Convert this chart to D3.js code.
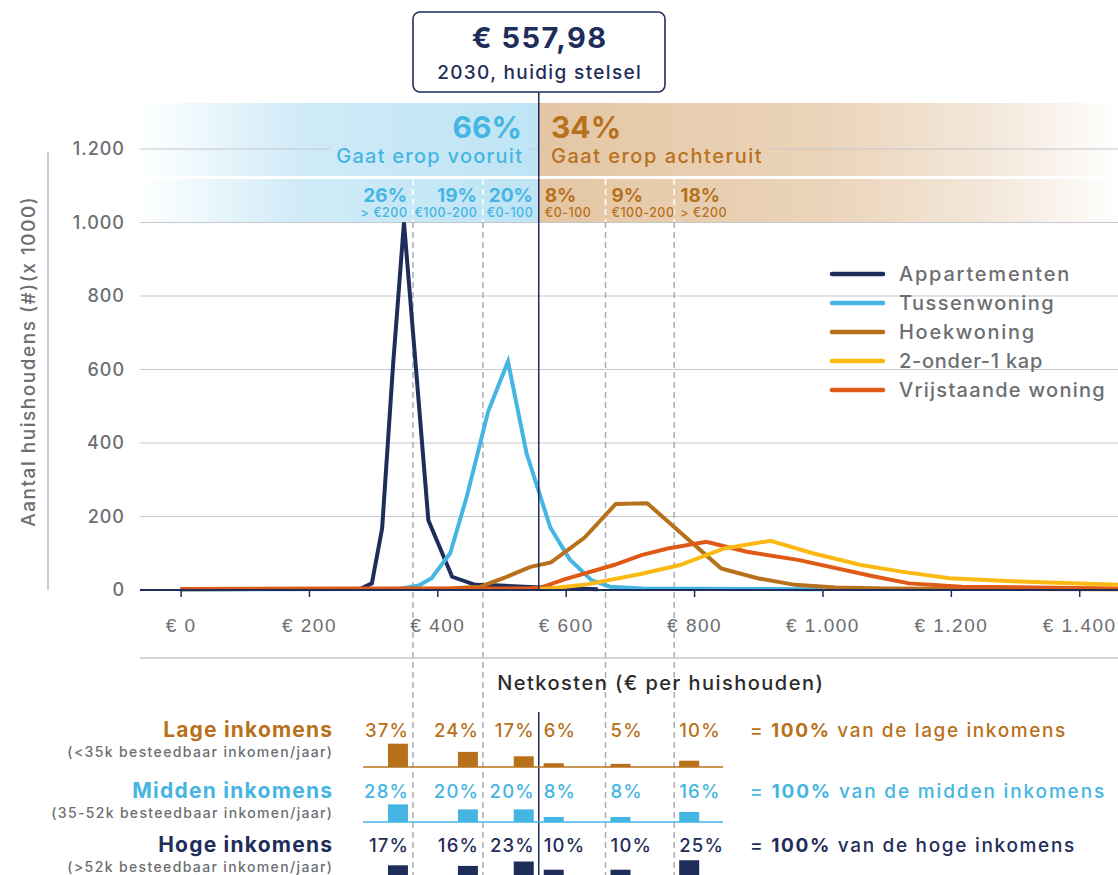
<!DOCTYPE html>
<html>
<head>
<meta charset="utf-8">
<script src="https://cdn.jsdelivr.net/npm/d3@7"></script>
<style>
  body { margin: 0; background: #fff; }
  svg { display: block; font-family: Inter, "Open Sans", sans-serif; font-weight: 500; }
</style>
</head>
<body>
<script>
// netkosten (€) vs aantal huishoudens (x 1000)
const series = ['Appartementen', 'Tussenwoning', 'Hoekwoning', '2-onder-1 kap', 'Vrijstaande woning']
const colors = ['#1f2d5a', '#45b5e3', '#b8711b', '#fdb913', '#df5a16']

const appartementen = [[0, 2], [280, 3], [298, 18], [314, 168], [331, 612], [348, 1000], [365, 639], [386, 190], [423, 36], [459, 14], [498, 12], [570, 6], [650, 2]]
const tussenwoning = [[0, 2], [340, 3], [371, 12], [391, 32], [420, 100], [446, 255], [479, 485], [510, 622], [539, 372], [576, 170], [606, 84], [640, 27], [669, 9], [720, 4], [1000, 2]]
const hoekwoning = [[0, 2], [420, 4], [467, 9], [508, 36], [545, 63], [577, 75], [629, 142], [678, 234], [727, 236], [842, 59], [899, 32], [957, 14], [1020, 7], [1100, 4], [1461, 2]]
const tweeOnderEenKap = [[560, 2], [577, 5], [629, 14], [715, 43], [778, 68], [847, 113], [919, 134], [985, 100], [1060, 68], [1123, 50], [1198, 32], [1307, 23], [1461, 14]]
const vrijstaand = [[0, 3], [540, 4], [560, 6], [598, 29], [675, 68], [718, 95], [759, 113], [819, 131], [882, 104], [962, 82], [1077, 38], [1135, 18], [1217, 9], [1461, 4]]
const curves = [appartementen, tussenwoning, hoekwoning, vrijstaand, tweeOnderEenKap]
const curveColors = [colors[0], colors[1], colors[2], colors[4], colors[3]]

const xTicks = [0, 200, 400, 600, 800, 1000, 1200, 1400]
const yTicks = [0, 200, 400, 600, 800, 1000, 1200]

const currentCost = 557.98
const currentLabel = '€ 557,98'
const currentNote = '2030, huidig stelsel'
const thresholds = [362, 471, 662, 769]

const shareBetter = '66%'
const shareWorse = '34%'
const bandShares = ['26%', '19%', '20%', '8%', '9%', '18%']
const bandRanges = ['> €200', '€100-200', '€0-100', '€0-100', '€100-200', '> €200']

const incomeGroups = ['Lage inkomens', 'Midden inkomens', 'Hoge inkomens']
const incomeNotes = ['(<35k besteedbaar inkomen/jaar)', '(35-52k besteedbaar inkomen/jaar)', '(>52k besteedbaar inkomen/jaar)']
const incomeTotals = ['van de lage inkomens', 'van de midden inkomens', 'van de hoge inkomens']
const lageInkomens = [37, 24, 17, 6, 5, 10]
const middenInkomens = [28, 20, 20, 8, 8, 16]
const hogeInkomens = [17, 16, 23, 10, 10, 25]
const incomeShares = [lageInkomens, middenInkomens, hogeInkomens]
const incomeColors = [colors[2], colors[1], colors[0]]

const W = 1118, H = 875
const gray = '#6d6e71', grid = '#c4c7cd', navy = colors[0]

const locale = d3.formatLocale({ decimal: ',', thousands: '.', grouping: [3], currency: ['€ ', ''] })
const fmt = locale.format(',')

// the original uses a wide geometric font, so spread the letters a bit
const spread = (sel, ls) => {
  sel.attr('letter-spacing', ls)
  sel.each(function () {
    const a = d3.select(this).attr('text-anchor')
    if (a === 'end') d3.select(this).attr('dx', ls)
    if (a === 'middle') d3.select(this).attr('dx', ls / 2)
  })
  return sel
}
const fit = (sel, width) => {
  const w = sel.node().getComputedTextLength()
  return spread(sel, Math.max(0, (width - w) / sel.text().length))
}

const x = d3.scaleLinear().domain([0, 1400]).range([180.6, 1079.2])
const y = d3.scaleLinear().domain([0, 1200]).range([590, 149])

const svg = d3.select('body').append('svg')
    .attr('width', W)
    .attr('height', H)

const defs = svg.append('defs')
const blueGrad = defs.append('linearGradient')
    .attr('id', 'blueGrad')
    .attr('gradientUnits', 'userSpaceOnUse')
    .attr('x1', 140).attr('x2', x(currentCost)).attr('y1', 0).attr('y2', 0)
blueGrad.append('stop').attr('offset', 0).attr('stop-color', '#ffffff')
blueGrad.append('stop').attr('offset', 0.4).attr('stop-color', '#d0ebf7')
blueGrad.append('stop').attr('offset', 1).attr('stop-color', '#bee4f5')
const orangeGrad = defs.append('linearGradient')
    .attr('id', 'orangeGrad')
    .attr('gradientUnits', 'userSpaceOnUse')
    .attr('x1', x(currentCost)).attr('x2', W).attr('y1', 0).attr('y2', 0)
orangeGrad.append('stop').attr('offset', 0).attr('stop-color', '#e4c6a4')
orangeGrad.append('stop').attr('offset', 0.5).attr('stop-color', '#ebd4ba')
orangeGrad.append('stop').attr('offset', 0.8).attr('stop-color', '#f4e9dd')
orangeGrad.append('stop').attr('offset', 1).attr('stop-color', '#ffffff')

const xc = x(currentCost)

// bands above the plot
const bandRows = [[103, 176], [179, 222]]
bandRows.forEach(([y0, y1]) => {
  svg.append('rect').attr('x', 140).attr('y', y0).attr('width', xc - 140).attr('height', y1 - y0).attr('fill', 'url(#blueGrad)')
  svg.append('rect').attr('x', xc).attr('y', y0).attr('width', W - xc).attr('height', y1 - y0).attr('fill', 'url(#orangeGrad)')
})

// gridlines
svg.append('g')
  .selectAll('line')
  .data(yTicks.filter(d => d > 0))
  .join('line')
    .attr('x1', 140).attr('x2', W)
    .attr('y1', d => y(d)).attr('y2', d => y(d))
    .attr('stroke', grid)
    .attr('stroke-width', 1.2)

svg.append('g')
  .selectAll('text')
  .data(yTicks)
  .join('text')
    .attr('x', 124)
    .attr('y', d => y(d))
    .attr('dy', '0.35em')
    .attr('text-anchor', 'end')
    .attr('fill', gray)
    .attr('font-size', 18)
    .text(d => fmt(d))
    .call(spread, 1)

svg.append('line')
    .attr('x1', 48).attr('x2', 48).attr('y1', 152).attr('y2', 590)
    .attr('stroke', '#b8bbc0').attr('stroke-width', 1.5)

svg.append('text')
    .attr('transform', 'translate(35,362) rotate(-90)')
    .attr('text-anchor', 'middle')
    .attr('fill', gray)
    .attr('font-size', 19)
    .text('Aantal huishoudens (#)(x 1000)')
    .call(fit, 331)

// dashed separators
thresholds.forEach(t => {
  svg.append('line')
      .attr('x1', x(t)).attr('x2', x(t)).attr('y1', 179).attr('y2', 222)
      .attr('stroke', '#fff').attr('stroke-width', 1.5).attr('stroke-dasharray', '6,4')
  svg.append('line')
      .attr('x1', x(t)).attr('x2', x(t)).attr('y1', 222).attr('y2', H)
      .attr('stroke', '#a9adb3').attr('stroke-width', 1.5).attr('stroke-dasharray', '6,4')
})

// band texts
const knockout = (sel, fill) => {
  const b = sel.node().getBBox()
  svg.insert('rect', () => sel.node())
      .attr('x', b.x - 6).attr('y', b.y + 2).attr('width', b.width + 12).attr('height', b.height - 4)
      .attr('fill', fill)
}

svg.append('text')
    .attr('x', 522).attr('y', 138)
    .attr('text-anchor', 'end')
    .attr('fill', colors[1]).attr('font-size', 30).attr('font-weight', 700)
    .text(shareBetter)
const better = svg.append('text')
    .attr('x', 522).attr('y', 163)
    .attr('text-anchor', 'end')
    .attr('fill', colors[1]).attr('font-size', 20)
    .text('Gaat erop vooruit')
    .call(fit, 187)
knockout(better, 'url(#blueGrad)')

svg.append('text')
    .attr('x', 551).attr('y', 138)
    .attr('fill', colors[2]).attr('font-size', 30).attr('font-weight', 700)
    .text(shareWorse)
const worse = svg.append('text')
    .attr('x', 551).attr('y', 163)
    .attr('fill', colors[2]).attr('font-size', 20)
    .text('Gaat erop achteruit')
    .call(fit, 212)
knockout(worse, 'url(#orangeGrad)')

const leftSeps = [x(thresholds[0]), x(thresholds[1]), xc]
const rightSeps = [xc, x(thresholds[2]), x(thresholds[3])]
const colAnchor = i => i < 3 ? leftSeps[i] - 6 : rightSeps[i - 3] + 6

const bandCols = svg.append('g')
  .selectAll('g')
  .data(bandShares)
  .join('g')
    .attr('transform', (d, i) => `translate(${colAnchor(i)},0)`)
    .attr('fill', (d, i) => i < 3 ? colors[1] : colors[2])
bandCols.append('text')
    .attr('y', 202)
    .attr('text-anchor', (d, i) => i < 3 ? 'end' : 'start')
    .attr('font-size', 19).attr('font-weight', 700)
    .text(d => d)
bandCols.append('text')
    .attr('y', 217)
    .attr('text-anchor', (d, i) => i < 3 ? 'end' : 'start')
    .attr('font-size', 12.5)
    .text((d, i) => bandRanges[i])
    .call(spread, 0.5)

// curves
const line = d3.line()
    .x(d => x(d[0]))
    .y(d => y(d[1]))

svg.append('g')
  .selectAll('path')
  .data(curves)
  .join('path')
    .attr('d', line)
    .attr('fill', 'none')
    .attr('stroke', (d, i) => curveColors[i])
    .attr('stroke-width', 4)
    .attr('stroke-miterlimit', 10)

// current cost marker
svg.append('line')
    .attr('x1', xc).attr('x2', xc).attr('y1', 92).attr('y2', 590)
    .attr('stroke', navy).attr('stroke-width', 1.5)
svg.append('line')
    .attr('x1', xc).attr('x2', xc).attr('y1', 712).attr('y2', H)
    .attr('stroke', navy).attr('stroke-width', 1.5)

svg.append('rect')
    .attr('x', 413).attr('y', 12).attr('width', 252).attr('height', 80).attr('rx', 7)
    .attr('fill', '#fff').attr('stroke', navy).attr('stroke-width', 1.6)
svg.append('text')
    .attr('x', 539).attr('y', 48)
    .attr('text-anchor', 'middle')
    .attr('fill', navy).attr('font-size', 29).attr('font-weight', 700)
    .text(currentLabel)
    .call(fit, 136)
svg.append('text')
    .attr('x', 539).attr('y', 79)
    .attr('text-anchor', 'middle')
    .attr('fill', navy).attr('font-size', 19)
    .text(currentNote)
    .call(fit, 205)

// x axis
const xAxis = svg.append('g')
    .attr('transform', 'translate(0,590)')
    .call(d3.axisBottom(x).tickValues(xTicks).tickSize(7).tickPadding(22).tickFormat(d => '€ ' + fmt(d)))
xAxis.select('.domain').remove()
xAxis.selectAll('.tick line').attr('stroke', navy).attr('stroke-width', 1.5)
xAxis.selectAll('.tick text')
    .attr('fill', gray).attr('font-size', 19).attr('font-family', null)
    .call(spread, 1.5)
svg.append('line')
    .attr('x1', 140).attr('x2', W).attr('y1', 590).attr('y2', 590)
    .attr('stroke', navy).attr('stroke-width', 2)

svg.append('line')
    .attr('x1', 140).attr('x2', W).attr('y1', 658).attr('y2', 658)
    .attr('stroke', grid).attr('stroke-width', 1.5)
svg.append('text')
    .attr('x', 660).attr('y', 690)
    .attr('text-anchor', 'middle')
    .attr('fill', '#2a2a2a').attr('font-size', 20)
    .text('Netkosten (€ per huishouden)')
    .call(fit, 327)

// legend
const legendWidths = [172, 156, 137, 144, 207]
const legend = svg.append('g')
  .selectAll('g')
  .data(series)
  .join('g')
    .attr('transform', (d, i) => `translate(832,${274 + i * 29})`)
legend.append('line')
    .attr('x1', 0).attr('x2', 51)
    .attr('stroke', (d, i) => colors[i])
    .attr('stroke-width', 4.5)
    .attr('stroke-linecap', 'round')
legend.append('text')
    .attr('x', 67).attr('dy', '0.35em')
    .attr('fill', gray).attr('font-size', 20)
    .text(d => d)
    .each(function (d, i) { fit(d3.select(this), legendWidths[i]) })

// income table
const rowText = [737, 798, 852]
const rowBase = [767, 822, 876]
const titleWidths = [170, 201, 175]
const noteWidths = [266, 282, 266]
const totalWidths = [317, 356, 326]
const barH = d3.scaleLinear().domain([0, 100]).range([0, 63])

incomeGroups.forEach((name, r) => {
  const c = incomeColors[r]
  svg.append('text')
      .attr('x', 332).attr('y', rowText[r])
      .attr('text-anchor', 'end')
      .attr('fill', c).attr('font-size', 21).attr('font-weight', 700)
      .text(name)
      .call(fit, titleWidths[r])
  svg.append('text')
      .attr('x', 332).attr('y', rowText[r] + 20)
      .attr('text-anchor', 'end')
      .attr('fill', gray).attr('font-size', 14)
      .text(incomeNotes[r])
      .call(fit, noteWidths[r])

  svg.append('line')
      .attr('x1', 363).attr('x2', 723).attr('y1', rowBase[r]).attr('y2', rowBase[r])
      .attr('stroke', r < 2 ? c : '#e3e4e8').attr('stroke-width', 1.5)

  const cols = svg.append('g')
    .selectAll('g')
    .data(incomeShares[r])
    .join('g')
      .attr('transform', (d, i) => `translate(${i < 3 ? colAnchor(i) + 1 : colAnchor(i) - 1},0)`)
  cols.append('rect')
      .attr('x', (d, i) => i < 3 ? -20 : 0)
      .attr('y', d => rowBase[r] - barH(d))
      .attr('width', 20)
      .attr('height', d => barH(d))
      .attr('fill', c)
  cols.append('text')
      .attr('y', rowText[r])
      .attr('text-anchor', (d, i) => i < 3 ? 'end' : 'start')
      .attr('fill', c).attr('font-size', 18.5)
      .text(d => d + '%')
      .call(spread, 1.2)

  const total = svg.append('text')
      .attr('x', 750).attr('y', rowText[r])
      .attr('fill', c).attr('font-size', 19)
  total.append('tspan').text('= ')
  total.append('tspan').attr('font-weight', 700).text('100%')
  total.append('tspan').text(' ' + incomeTotals[r])
  fit(total, totalWidths[r])
})
</script>
</body>
</html>
